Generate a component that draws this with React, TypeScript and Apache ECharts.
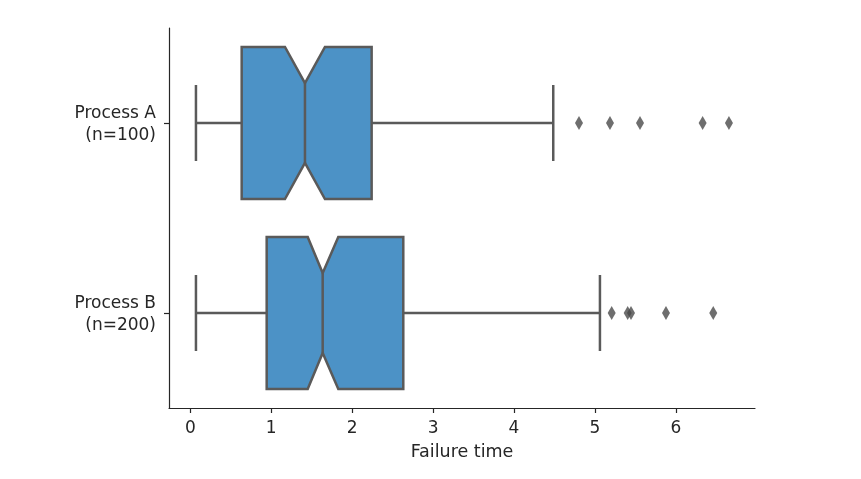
import React, { useEffect, useRef } from "react";
import * as echarts from "echarts";

const categories = ["Process A\n(n=100)", "Process B\n(n=200)"];
// [whiskerLow, q1, notchLow, median, notchHigh, q3, whiskerHigh]
const boxStats = [
  [0.07, 0.635, 1.17, 1.417, 1.664, 2.241, 4.485],
  [0.07, 0.944, 1.451, 1.636, 1.829, 2.632, 5.062],
];
const outliersA = [4.803, 5.186, 5.557, 6.331, 6.656];
const outliersB = [5.207, 5.405, 5.446, 5.878, 6.462];
const xTicks = [0, 1, 2, 3, 4, 5, 6];

const FILL = "#4c92c6";
const EDGE = "#5a5a5a";
const FONT = "DejaVu Sans";

export default function App() {
  const ref = useRef<HTMLDivElement>(null);
  useEffect(() => {
    if (!ref.current) return;
    const chart = echarts.init(ref.current, null, { renderer: "svg" });
    const boxData = boxStats.map((s, i) => [i, ...s]);
    const outlierData = [
      ...outliersA.map((v) => [v, 0]),
      ...outliersB.map((v) => [v, 1]),
    ];
    chart.setOption({
      animation: false,
      grid: { left: 169, top: 28, right: 106, bottom: 71 },
      xAxis: {
        type: "value",
        min: -0.263,
        max: 6.978,
        name: "Failure time",
        nameLocation: "middle",
        nameGap: 34,
        nameTextStyle: { fontFamily: FONT, fontSize: 17.5, color: "#262626" },
        splitLine: { show: false },
        axisLine: { show: true, onZero: false, lineStyle: { color: "#262626", width: 1.2 } },
        axisTick: {
          show: true,
          length: 5,
          customValues: xTicks,
          lineStyle: { color: "#262626", width: 1.2 },
        },
        axisLabel: {
          customValues: xTicks,
          margin: 10,
          fontFamily: FONT,
          fontSize: 17,
          color: "#262626",
        },
      },
      yAxis: {
        type: "category",
        data: categories,
        inverse: true,
        axisLine: { show: true, onZero: false, lineStyle: { color: "#262626", width: 1.2 } },
        axisTick: {
          show: true,
          alignWithLabel: true,
          length: 5,
          lineStyle: { color: "#262626", width: 1.2 },
        },
        axisLabel: {
          margin: 13,
          fontFamily: FONT,
          fontSize: 17,
          lineHeight: 22,
          color: "#262626",
        },
        splitLine: { show: false },
      },
      series: [
        {
          type: "custom",
          data: boxData,
          encode: { x: [1, 2, 3, 4, 5, 6, 7], y: 0 },
          renderItem: (params: any, api: any) => {
            const cat = api.value(0);
            const v = [1, 2, 3, 4, 5, 6, 7].map((k) => api.value(k));
            const [wlo, q1, nlo, med, nhi, q3, whi] = v;
            const c = api.coord([0, cat])[1];
            const band = api.size([0, 1])[1];
            const bh = band * 0.4;
            const wh = band * 0.21;
            const ch = band * 0.2;
            const X = (val: number) => api.coord([val, cat])[0];
            const lineStyle = { stroke: EDGE, lineWidth: 2.5, fill: null };
            return {
              type: "group",
              children: [
                {
                  type: "line",
                  shape: { x1: X(wlo), y1: c, x2: X(q1), y2: c },
                  style: lineStyle,
                },
                {
                  type: "line",
                  shape: { x1: X(q3), y1: c, x2: X(whi), y2: c },
                  style: lineStyle,
                },
                {
                  type: "line",
                  shape: { x1: X(wlo), y1: c - ch, x2: X(wlo), y2: c + ch },
                  style: lineStyle,
                },
                {
                  type: "line",
                  shape: { x1: X(whi), y1: c - ch, x2: X(whi), y2: c + ch },
                  style: lineStyle,
                },
                {
                  type: "polygon",
                  shape: {
                    points: [
                      [X(q1), c - bh],
                      [X(nlo), c - bh],
                      [X(med), c - wh],
                      [X(nhi), c - bh],
                      [X(q3), c - bh],
                      [X(q3), c + bh],
                      [X(nhi), c + bh],
                      [X(med), c + wh],
                      [X(nlo), c + bh],
                      [X(q1), c + bh],
                    ],
                  },
                  style: { fill: FILL, stroke: EDGE, lineWidth: 2.5, lineJoin: "miter" },
                },
                {
                  type: "line",
                  shape: { x1: X(med), y1: c - wh, x2: X(med), y2: c + wh },
                  style: lineStyle,
                },
              ],
            };
          },
        },
        {
          type: "scatter",
          data: outlierData,
          symbol: "diamond",
          symbolSize: [8, 14],
          itemStyle: { color: "#4a4a4a" },
        },
      ],
    });
    return () => chart.dispose();
  }, []);
  return (
    <div
      ref={ref}
      style={{ position: "fixed", left: 0, top: 0, width: 861, height: 479 }}
    />
  );
}
